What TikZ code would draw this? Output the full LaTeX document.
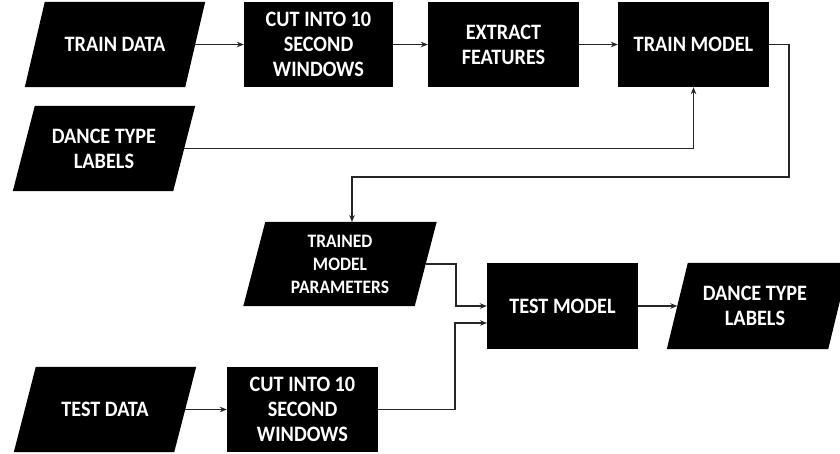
\documentclass[tikz,border=0pt]{standalone}
\usepackage{fontspec}
\setmainfont{Carlito}[FakeStretch=0.92]
\usetikzlibrary{arrows.meta,backgrounds}
\newcommand{\parafill}[2]{\fill[black] ([xshift=#2]#1.north west) -- ([xshift=#2]#1.north east) -- ([xshift=-#2]#1.south east) -- ([xshift=-#2]#1.south west) -- cycle;}
\tikzset{
  box/.style={rectangle, fill=black, text=white, font=\bfseries\fontsize{22}{25}\selectfont, align=center, inner sep=0pt, minimum width=151pt, minimum height=85pt},
  para/.style={rectangle, text=white, font=\bfseries\fontsize{22}{25}\selectfont, align=center, inner sep=0pt, minimum width=160pt, minimum height=85pt},
  conn/.style={line width=1.5pt, draw=black!85, -{Stealth[length=7pt,width=5.5pt]}},
}
\begin{document}
\begin{tikzpicture}[x=1pt,y=-1pt]
\useasboundingbox (0,0) rectangle (840,454);
% top row
\node[para] (td) at (115,44.5) {TRAIN DATA};
\node[box, minimum width=149pt] (cut1) at (318.5,44.5) {CUT INTO 10\\SECOND\\WINDOWS};
\node[box] (ef) at (503.5,44.5) {EXTRACT\\FEATURES};
\node[box] (tm) at (693.5,44.5) {TRAIN MODEL};
\node[para] (dtl1) at (104,148.5) {DANCE TYPE\\LABELS};
% middle
\node[para, minimum width=171pt, minimum height=84pt, font=\bfseries\fontsize{19}{23}\selectfont] (tmp) at (340,264) {TRAINED\\MODEL\\PARAMETERS};
\node[box, minimum height=86pt] (testm) at (562.5,306) {TEST MODEL};
\node[para, minimum width=161pt, minimum height=86pt] (dtl2) at (758,306) {\hspace*{-6pt}DANCE TYPE\\\hspace*{-6pt}LABELS};
% bottom
\node[para] (td2) at (105,409.5) {TEST DATA};
\node[box] (cut2) at (302.5,409.5) {CUT INTO 10\\SECOND\\WINDOWS};
\begin{scope}[on background layer]
  \parafill{td}{10pt}
  \parafill{dtl1}{11pt}
  \parafill{tmp}{11pt}
  \parafill{dtl2}{10.5pt}
  \parafill{td2}{11pt}
\end{scope}
% connectors
\coordinate (r1) at (789,177);
\coordinate (tmpin) at (352,222);
\coordinate (j1) at (456,306);
\coordinate (j2) at (455,323);
\coordinate (t2in) at (487,323);
\draw[conn] (td) -- (cut1);
\draw[conn] (cut1) -- (ef);
\draw[conn] (ef) -- (tm);
\draw[conn] (dtl1.east) -| (tm.south);
\draw[conn] (tm.east) -| (r1) -| (tmpin);
\draw[conn] (tmp.east) -| (j1) -- (testm.west);
\draw[conn] (td2) -- (cut2);
\draw[conn] (cut2.east) -| (j2) -- (t2in);
\draw[conn] (testm) -- (dtl2);
\end{tikzpicture}
\end{document}
